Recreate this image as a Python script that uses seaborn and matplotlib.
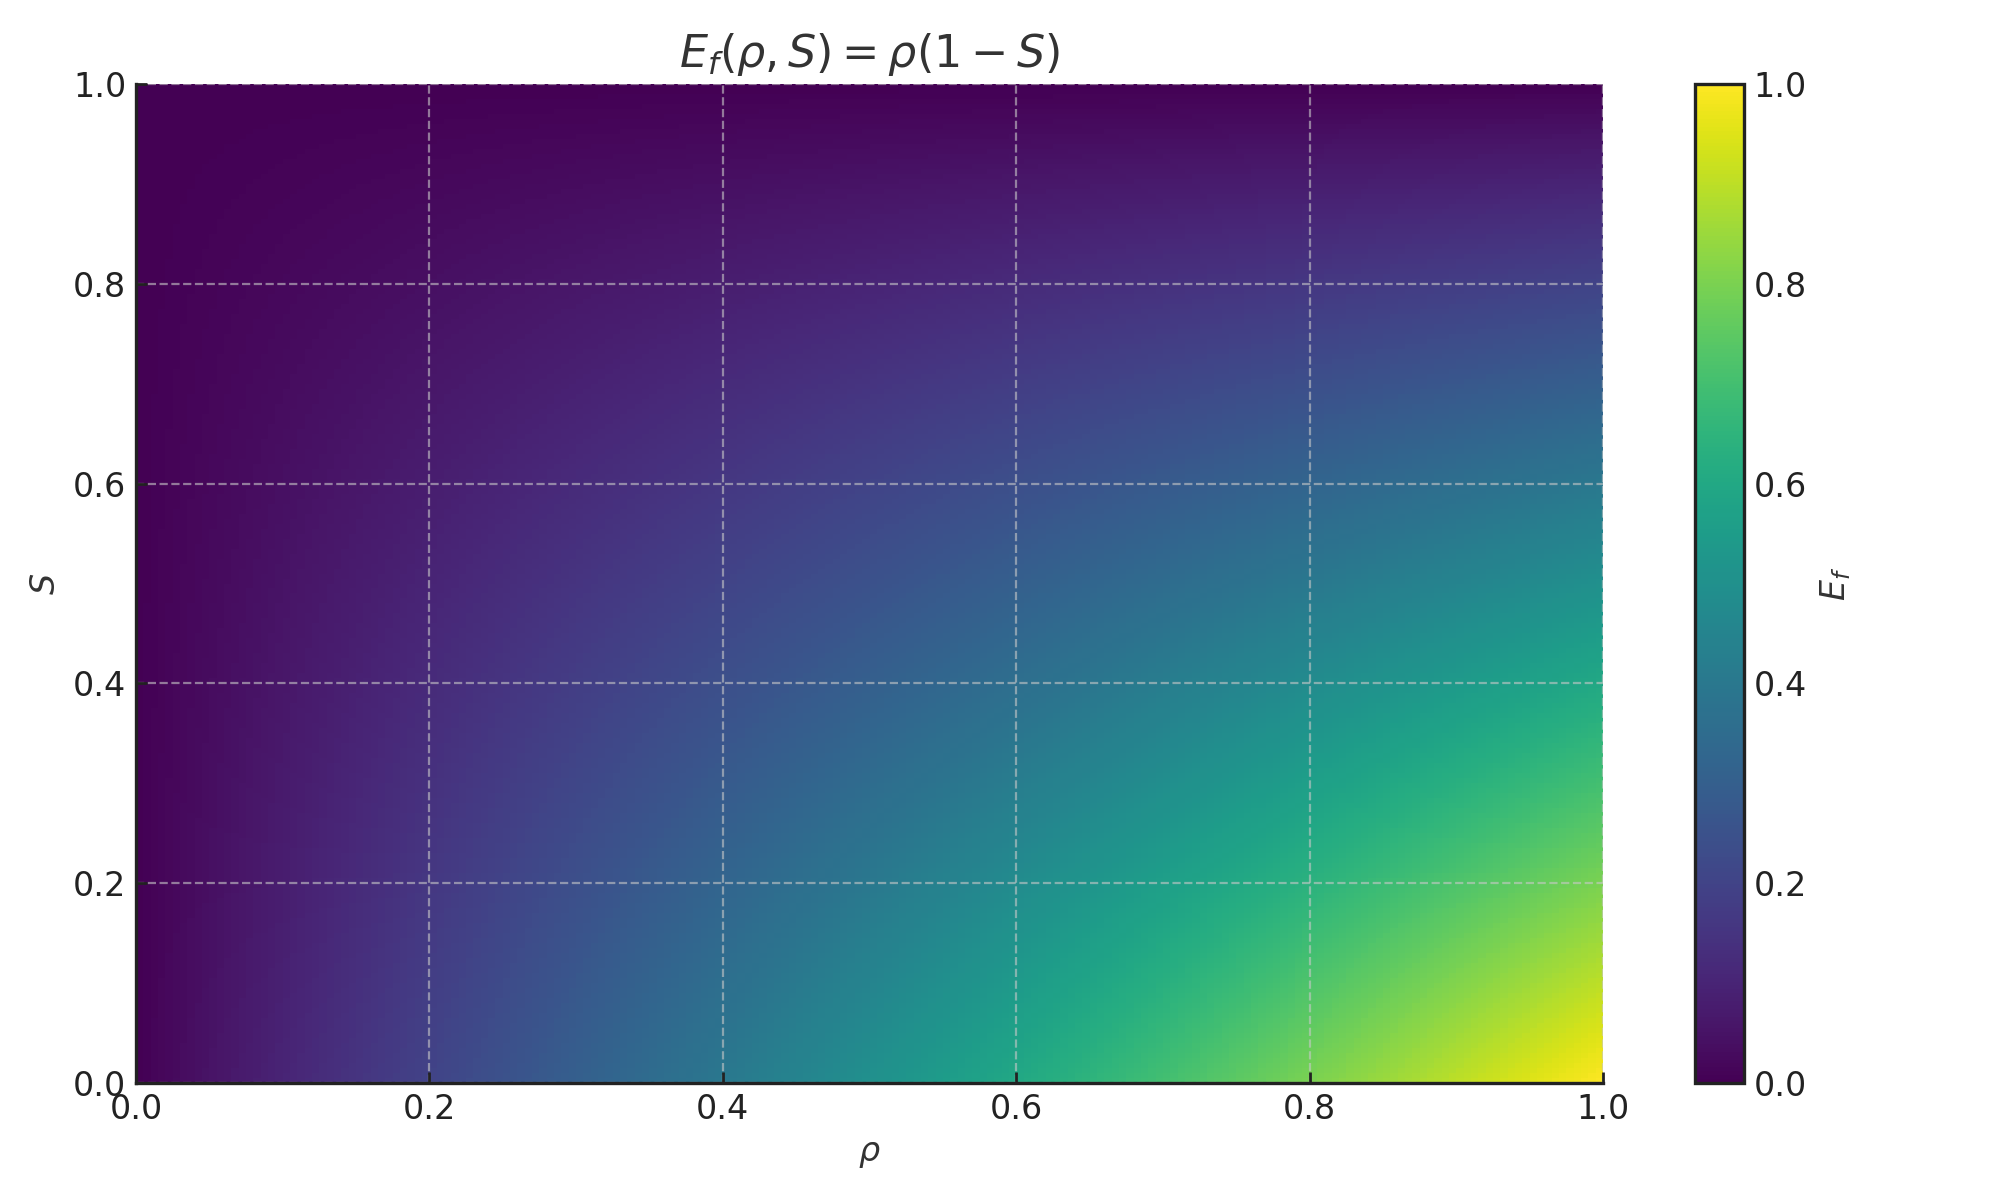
import numpy as np
import pandas as pd
import seaborn as sns
import matplotlib.pyplot as plt

# grid of rho and S (cell centres on [0, 1])
n = 200
rho = (np.arange(n) + 0.5) / n
S = (np.arange(n) + 0.5) / n
tick_vals = [0.0, 0.2, 0.4, 0.6, 0.8, 1.0]
tick_labels = ["0.0", "0.2", "0.4", "0.6", "0.8", "1.0"]

# E_f(rho, S) = rho (1 - S), rows = S, cols = rho
Ef = pd.DataFrame(np.outer(1 - S, rho), index=S, columns=rho)

sns.set_style("white")
plt.rcParams["font.family"] = ["DejaVu Sans"]
plt.rcParams["text.color"] = "#333333"

fig = plt.figure(figsize=(10, 6), dpi=200)
ax = fig.add_axes([0.068, 0.0975, 0.7335, 0.8325])
cax = fig.add_axes([0.8475, 0.0975, 0.0245, 0.8325])

sns.heatmap(Ef, ax=ax, cbar_ax=cax, cmap="viridis", vmin=0, vmax=1,
            xticklabels=False, yticklabels=False, rasterized=True,
            cbar_kws={"ticks": tick_vals})
ax.invert_yaxis()

pos = [t * n for t in tick_vals]
ax.set_xticks(pos)
ax.set_xticklabels(tick_labels, rotation=0)
ax.set_yticks(pos)
ax.set_yticklabels(tick_labels, rotation=0)
ax.set_xlim(0, n)
ax.set_ylim(0, n)

ax.set_axisbelow(False)
ax.grid(True, linestyle="--", color="#c8c8c8", alpha=0.6, linewidth=0.8)

for side in ["top", "right"]:
    ax.spines[side].set_visible(False)
for side in ["left", "bottom"]:
    ax.spines[side].set_visible(True)
    ax.spines[side].set_color("#222222")
    ax.spines[side].set_linewidth(1.2)
    ax.spines[side].set_zorder(5)

ax.tick_params(direction="in", length=4, width=1, colors="#222222",
               labelsize=12, left=True, bottom=True)
ax.set_xlabel(r"$\rho$", fontsize=12, color="#333333")
ax.set_ylabel(r"$S$", fontsize=12, color="#333333")
ax.set_title(r"$E_f(\rho, S) = \rho(1 - S)$", fontsize=16, color="#333333", pad=6)

cbar = ax.collections[0].colorbar
cbar.outline.set_visible(True)
cbar.outline.set_edgecolor("#222222")
cbar.outline.set_linewidth(1.2)
cbar.ax.set_yticklabels(tick_labels)
cbar.ax.tick_params(direction="in", length=4, width=1, colors="#222222", labelsize=12)
cbar.set_label(r"$E_f$", fontsize=12, color="#333333")

plt.savefig("out.png", dpi=200)
